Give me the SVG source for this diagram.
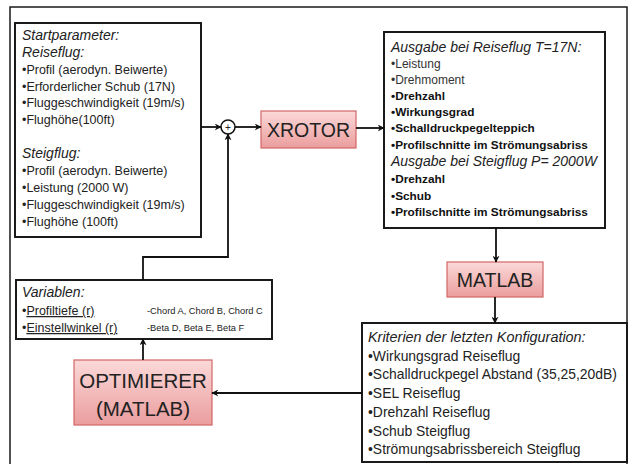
<svg xmlns="http://www.w3.org/2000/svg" width="632" height="464" viewBox="0 0 632 464">
<defs>
<linearGradient id="pink" x1="0" y1="0" x2="0" y2="1">
<stop offset="0" stop-color="#fbd9d9"/>
<stop offset="1" stop-color="#eb9d9d"/>
</linearGradient>
<marker id="arr" viewBox="0 0 10 10" refX="9" refY="5" markerWidth="7" markerHeight="7" markerUnits="userSpaceOnUse" orient="auto">
<path d="M0,0 L10,5 L0,10 L3,5 Z" fill="#111"/>
</marker>
</defs>
<style>
text{font-family:"Liberation Sans",Arial,sans-serif;fill:#222}
.box{fill:#fff;stroke:#1a1a1a;stroke-width:2}
.pk{fill:url(#pink);stroke:#d26666;stroke-width:1.2}
.hd{font-style:italic;font-size:14px}
.b{font-size:12.5px}
.ob{font-size:11.8px;font-weight:bold;fill:#111}
.or{font-size:12px;fill:#333}
.cr{font-size:13.9px}
.ch{font-size:14.4px;font-style:italic}
.sm{font-size:9.3px}
.big{font-size:19.5px;text-anchor:middle}
.opt{font-size:20.5px;text-anchor:middle}
.con{fill:none;stroke:#111;stroke-width:1.8}
</style>
<rect x="10" y="7" width="617" height="470" fill="#fff" stroke="#1a1a1a" stroke-width="1.5"/>

<g id="start">
<rect class="box" x="15" y="23" width="186" height="214"/>
<text class="hd" x="22" y="40">Startparameter:</text>
<text class="hd" x="22" y="57">Reiseflug:</text>
<text class="b" x="22" y="74">•Profil (aerodyn. Beiwerte)</text>
<text class="b" x="22" y="90.5">•Erforderlicher Schub (17N)</text>
<text class="b" x="22" y="107">•Fluggeschwindigkeit (19m/s)</text>
<text class="b" x="22" y="124">•Flughöhe(100ft)</text>
<text class="hd" x="22" y="158">Steigflug:</text>
<text class="b" x="22" y="175">•Profil (aerodyn. Beiwerte)</text>
<text class="b" x="22" y="192">•Leistung (2000 W)</text>
<text class="b" x="22" y="208.5">•Fluggeschwindigkeit (19m/s)</text>
<text class="b" x="22" y="225.5">•Flughöhe (100ft)</text>
</g>

<g id="sum">
<circle cx="228" cy="127" r="7" fill="#fff" stroke="#111" stroke-width="1.5"/>
<text x="228" y="130.5" font-size="10" text-anchor="middle">+</text>
</g>

<g id="xrotor">
<rect class="pk" x="261" y="111" width="95" height="37"/>
<text class="big" x="308.5" y="137">XROTOR</text>
</g>

<g id="ausgabe">
<rect class="box" x="384" y="32" width="221" height="196"/>
<text class="hd" x="391" y="52">Ausgabe bei Reiseflug T=17N:</text>
<text class="or" x="391" y="67.5">•Leistung</text>
<text class="or" x="391" y="83.5">•Drehmoment</text>
<text class="ob" x="391" y="100">•Drehzahl</text>
<text class="ob" x="391" y="116">•Wirkungsgrad</text>
<text class="ob" x="391" y="132">•Schalldruckpegelteppich</text>
<text class="ob" x="391" y="149">•Profilschnitte im Strömungsabriss</text>
<text class="hd" x="391" y="166">Ausgabe bei Steigflug P= 2000W</text>
<text class="ob" x="391" y="183">•Drehzahl</text>
<text class="ob" x="391" y="199.5">•Schub</text>
<text class="ob" x="391" y="216">•Profilschnitte im Strömungsabriss</text>
</g>

<g id="matlab">
<rect class="pk" x="447" y="262" width="96" height="35"/>
<text class="big" x="495" y="287">MATLAB</text>
</g>

<g id="kriterien">
<rect class="box" x="362" y="323" width="265" height="139"/>
<text class="ch" x="368" y="342">Kriterien der letzten Konfiguration:</text>
<text class="cr" x="368" y="360.7">•Wirkungsgrad Reiseflug</text>
<text class="cr" x="368" y="379.4">•Schalldruckpegel Abstand (35,25,20dB)</text>
<text class="cr" x="368" y="398.1">•SEL Reiseflug</text>
<text class="cr" x="368" y="416.8">•Drehzahl Reiseflug</text>
<text class="cr" x="368" y="435.5">•Schub Steigflug</text>
<text class="cr" x="368" y="454.2">•Strömungsabrissbereich Steigflug</text>
</g>

<g id="optimierer">
<rect class="pk" x="74" y="360" width="138" height="65"/>
<text class="opt" x="143" y="388">OPTIMIERER</text>
<text class="opt" x="143" y="416">(MATLAB)</text>
</g>

<g id="variablen">
<rect class="box" x="16" y="280" width="256" height="59"/>
<text class="hd" x="22" y="297">Variablen:</text>
<text class="b" x="22" y="315">•<tspan text-decoration="underline">Profiltiefe (r)</tspan></text>
<text class="b" x="22" y="332">•<tspan text-decoration="underline">Einstellwinkel (r)</tspan></text>
<text class="sm" x="147" y="314">-Chord A, Chord B,  Chord C</text>
<text class="sm" x="147" y="331">-Beta D, Beta E, Beta F</text>
</g>

<g id="connectors">
<line class="con" x1="201" y1="127" x2="221" y2="127" marker-end="url(#arr)"/>
<line class="con" x1="235" y1="127" x2="261" y2="127" marker-end="url(#arr)"/>
<line class="con" x1="356" y1="128" x2="384" y2="128" marker-end="url(#arr)"/>
<line class="con" x1="496" y1="228" x2="496" y2="262" marker-end="url(#arr)"/>
<line class="con" x1="495" y1="297" x2="495" y2="323" marker-end="url(#arr)"/>
<line class="con" x1="362" y1="393" x2="212" y2="393" marker-end="url(#arr)"/>
<line class="con" x1="143" y1="360" x2="143" y2="339" marker-end="url(#arr)"/>
<polyline class="con" points="143,280 143,257 228,257 228,134" marker-end="url(#arr)"/>
</g>
</svg>
